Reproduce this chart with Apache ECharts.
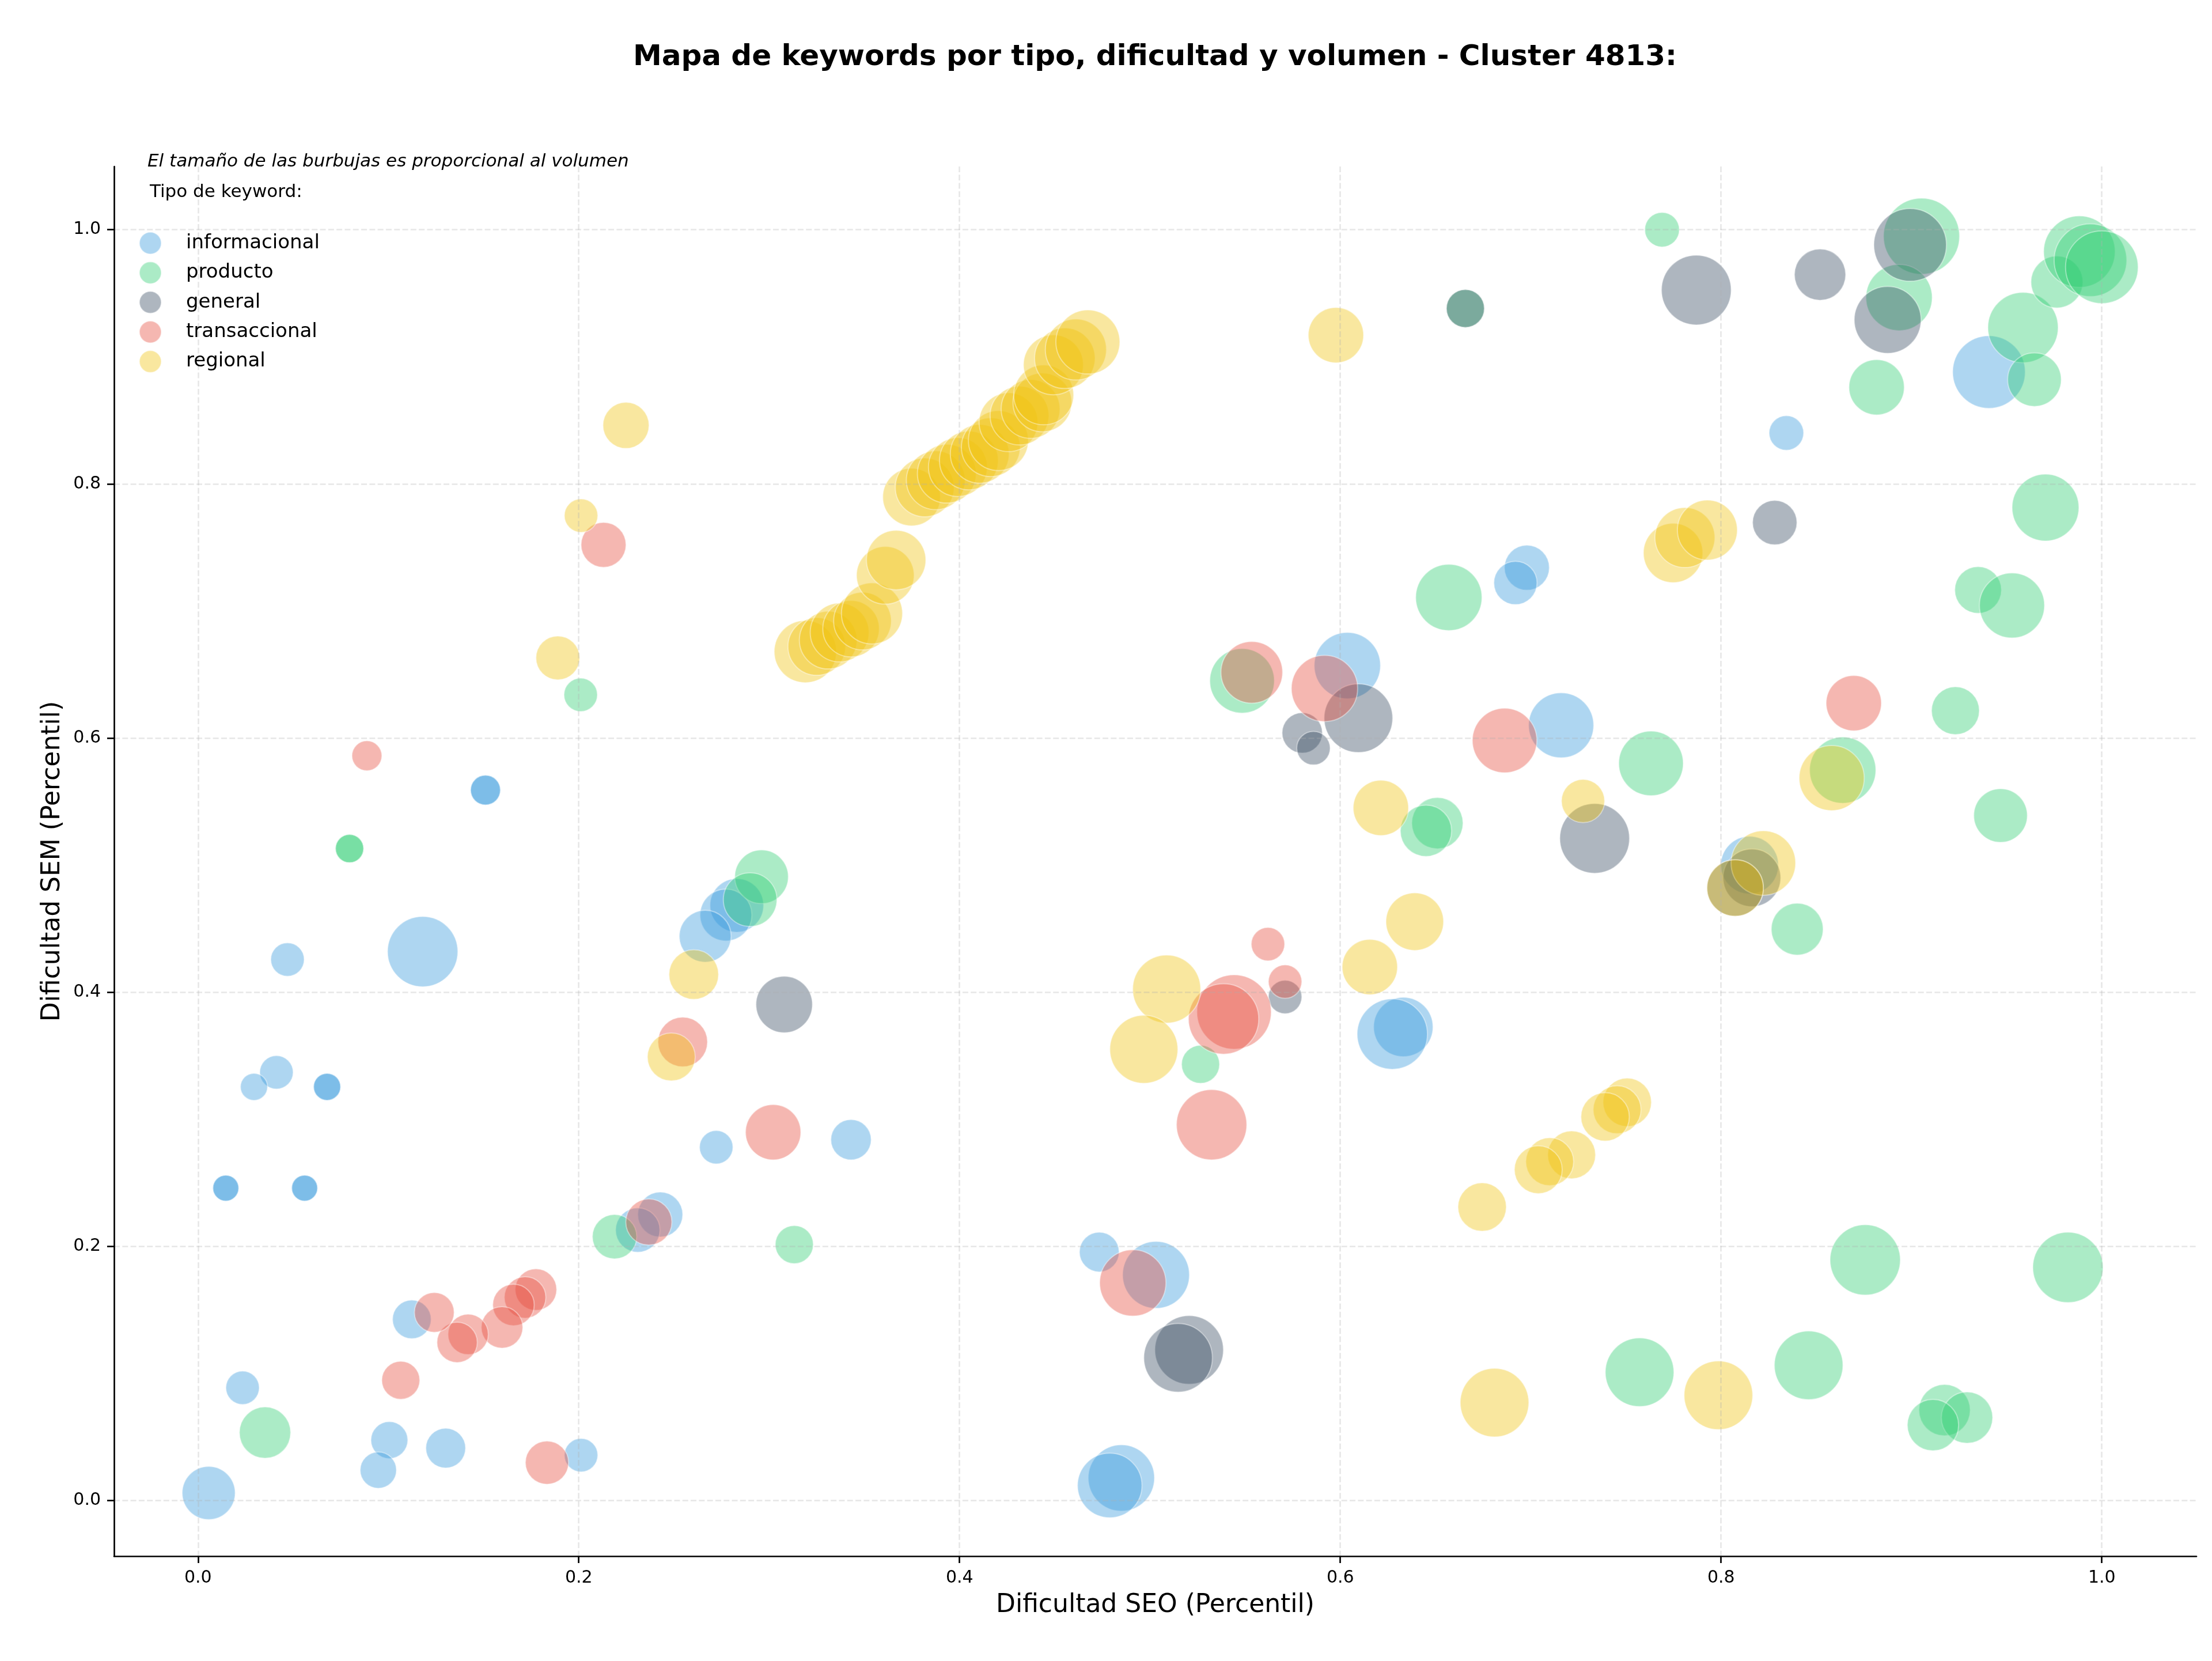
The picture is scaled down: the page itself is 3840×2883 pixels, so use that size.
<!DOCTYPE html>
<html>
<head>
<meta charset="utf-8">
<script src="https://cdn.jsdelivr.net/npm/echarts@6/dist/echarts.min.js"></script>
<style>
  html, body { margin: 0; padding: 0; background: #ffffff; }
  #chart { width: 3840px; height: 2883px; }
</style>
</head>
<body>
<div id="chart"></div>
<script>
// ---- Data ----
const tickValues = [0.0, 0.2, 0.4, 0.6, 0.8, 1.0];
const tipos = ['informacional', 'producto', 'general', 'transaccional', 'regional'];

// volumen: relative keyword volume (bubble area is proportional to it)
const informacionalX = [0.151,0.151,0.047,0.118,0.0412,0.0294,0.0678,0.0678,0.0146,0.0146,0.056,0.056,0.283,0.2773,0.2664,0.2722,0.2428,0.231,0.1123,0.0234,0.1005,0.0947,0.1301,0.2012,0.0056,0.343,0.4734,0.5032,0.485,0.4789,0.6331,0.6273,0.6037,0.698,0.692,0.716,0.8343,0.9407,0.815];
const informacionalY = [0.559,0.559,0.4257,0.4319,0.3369,0.3255,0.3255,0.3255,0.2458,0.2458,0.2458,0.2458,0.4683,0.4607,0.444,0.278,0.225,0.2128,0.1425,0.0887,0.0475,0.0239,0.0412,0.0357,0.0059,0.2839,0.1955,0.1775,0.0177,0.0118,0.3726,0.367,0.657,0.734,0.722,0.610,0.840,0.888,0.50];
const informacionalVol = [243,243,303,1340,303,199,199,199,182,182,182,182,778,729,729,303,548,534,404,303,369,357,428,303,762,441,428,1211,1190,1129,955,1340,1190,548,506,1149,324,1429,900];

const productoX = [0.769,0.9053,0.8935,0.8817,0.9586,0.9646,0.9764,0.9882,0.994,1.0,0.6657,0.657,0.5484,0.651,0.645,0.9704,0.935,0.9528,0.9231,0.7632,0.8639,0.9468,0.84,0.8757,0.9822,0.7572,0.846,0.9174,0.9292,0.9113,0.5266,0.201,0.0796,0.0796,0.296,0.29,0.3132,0.2188,0.0352];
const productoY = [1.0,0.9948,0.9466,0.876,0.923,0.882,0.9588,0.9827,0.976,0.9705,0.938,0.7106,0.645,0.533,0.527,0.7813,0.7165,0.7043,0.6215,0.580,0.5747,0.539,0.4496,0.1893,0.1834,0.1009,0.1064,0.0711,0.0652,0.0593,0.3432,0.634,0.513,0.513,0.4908,0.4728,0.2014,0.2076,0.0534];
const productoVol = [324,1568,1190,829,1340,778,729,1384,1429,1429,392,1190,1129,713,713,1211,590,1149,620,1129,1190,778,729,1340,1340,1275,1275,713,713,713,392,303,216,216,778,778,392,534,713];

const generalX = [0.787,0.852,0.8993,0.8875,0.6657,0.8282,0.6095,0.580,0.5859,0.7336,0.8162,0.8074,0.571,0.3079,0.5206,0.5148];
const generalY = [0.9525,0.9646,0.988,0.929,0.938,0.7695,0.6156,0.604,0.592,0.521,0.49,0.482,0.3962,0.3903,0.1185,0.1123];
const generalVol = [1318,713,1429,1211,392,534,1275,441,303,1318,900,864,303,864,1275,1275];

const transaccionalX = [0.213,0.0887,0.5535,0.5917,0.6863,0.8697,0.562,0.571,0.5442,0.5387,0.5324,0.491,0.2546,0.3021,0.2368,0.1775,0.1718,0.1657,0.1597,0.1419,0.1361,0.1241,0.1065,0.1833];
const transaccionalY = [0.752,0.586,0.6517,0.639,0.598,0.6274,0.4378,0.4083,0.3844,0.3789,0.2957,0.1712,0.3608,0.2898,0.2191,0.166,0.1598,0.1539,0.1362,0.1307,0.1244,0.148,0.0946,0.0298];
const transaccionalVol = [548,243,1030,1190,1129,829,303,303,1498,1340,1340,1190,666,829,576,467,467,467,467,441,441,428,392,506];

const regionalX = [0.2248,0.2012,0.189,0.5977,0.6213,0.7748,0.781,0.7928,0.8581,0.7275,0.8222,0.8074,0.6391,0.6155,0.5088,0.4968,0.2604,0.2486,0.7507,0.7454,0.7391,0.7215,0.71,0.704,0.6745,0.681,0.7986,
  0.319,0.325,0.331,0.337,0.343,0.349,0.354,0.361,0.3667,0.3748,0.3817,0.3875,0.3933,0.3991,0.4049,0.4106,0.4164,0.4204,0.4257,0.4315,0.4373,0.4435,0.4442,0.4493,0.4553,0.4611,0.4674];
const regionalY = [0.846,0.775,0.663,0.917,0.545,0.7456,0.7577,0.7636,0.5685,0.5504,0.5016,0.482,0.4555,0.4198,0.4024,0.355,0.4139,0.349,0.3133,0.3075,0.3019,0.272,0.2666,0.2603,0.2309,0.077,0.0828,
  0.668,0.672,0.677,0.683,0.686,0.692,0.698,0.728,0.740,0.7896,0.7972,0.8028,0.808,0.8132,0.8184,0.8236,0.8288,0.834,0.8485,0.8537,0.8589,0.8641,0.870,0.8936,0.8988,0.9057,0.9116];
const regionalVol = [576,303,520,829,829,955,973,973,1149,506,1129,864,900,829,1253,1253,666,620,635,620,635,620,620,620,635,1275,1275,
  1050,900,900,936,864,900,1011,900,955,900,936,936,936,936,936,936,936,973,936,936,936,936,973,973,992,1011,1109];

// ---- Build options ----
const colors = {
  informacional: 'rgba(52,152,219,0.5)',
  producto: 'rgba(46,204,113,0.5)',
  general: 'rgba(52,73,94,0.5)',
  transaccional: 'rgba(231,76,60,0.5)',
  regional: 'rgba(241,196,15,0.5)'
};
const sources = {
  informacional: [informacionalX, informacionalY, informacionalVol],
  producto: [productoX, productoY, productoVol],
  general: [generalX, generalY, generalVol],
  transaccional: [transaccionalX, transaccionalY, transaccionalVol],
  regional: [regionalX, regionalY, regionalVol]
};
function zip(xs, ys, vs) { return xs.map((x, i) => [x, ys[i], vs[i]]); }

const FONT = '"DejaVu Sans", sans-serif';
const gridLine = { show: true, lineStyle: { color: 'rgba(176,176,176,0.3)', width: 2.67, type: [10, 4.3] } };
const fmt = v => Number(v).toFixed(1);

const series = tipos.map(t => ({
  name: t,
  type: 'scatter',
  data: zip.apply(null, sources[t]),
  symbol: 'circle',
  symbolSize: v => Math.sqrt(v[2]) / 0.3,
  itemStyle: { color: colors[t], borderColor: 'rgba(255,255,255,0.5)', borderWidth: 2 },
  emphasis: { disabled: true },
  z: 2
}));

const axisCommon = {
  type: 'value', z: 3,
  nameLocation: 'middle',
  nameTextStyle: { fontSize: 44, color: '#000', fontFamily: FONT },
  axisLine: { show: true, onZero: false, lineStyle: { color: '#000', width: 2.67 } },
  axisTick: { show: true, length: 12, lineStyle: { color: '#000', width: 2.67 }, customValues: tickValues },
  axisLabel: { fontSize: 30, color: '#000', margin: 23, fontFamily: FONT, formatter: fmt, customValues: tickValues },
  splitLine: gridLine
};

const option = {
  animation: false,
  backgroundColor: '#ffffff',
  textStyle: { fontFamily: FONT },
  grid: { left: 198, top: 289, width: 3615, height: 2412, containLabel: false },
  xAxis: Object.assign({}, axisCommon, {
    min: -0.0441, max: 1.0497,
    name: 'Dificultad SEO (Percentil)', nameGap: 64
  }),
  yAxis: Object.assign({}, axisCommon, {
    min: -0.0438, max: 1.0497,
    name: 'Dificultad SEM (Percentil)', nameGap: 84, nameRotate: 90
  }),
  legend: {
    data: tipos,
    orient: 'vertical',
    left: 236, top: 397,
    itemWidth: 114, itemHeight: 38, itemGap: 11.4,
    icon: 'circle',
    textStyle: { fontSize: 34, color: '#000', fontFamily: FONT, lineHeight: 38 },
    selectedMode: false
  },
  graphic: [
    { type: 'text', x: 2005, y: 100, z: 10,
      style: { text: 'Mapa de keywords por tipo, dificultad y volumen - Cluster 4813:', font: 'bold 50px "DejaVu Sans", sans-serif', fill: '#000', textAlign: 'center', textVerticalAlign: 'middle' } },
    { type: 'text', x: 256, y: 281, z: 10,
      style: { text: 'El tamaño de las burbujas es proporcional al volumen', font: 'italic 31px "DejaVu Sans", sans-serif', fill: '#000', textAlign: 'left', textVerticalAlign: 'middle' } },
    { type: 'text', x: 260, y: 334, z: 10,
      style: { text: 'Tipo de keyword:', font: '31px "DejaVu Sans", sans-serif', fill: '#000', textAlign: 'left', textVerticalAlign: 'middle' } }
  ],
  series: series
};

const chart = echarts.init(document.getElementById('chart'), null, { renderer: 'canvas', width: 3840, height: 2883 });
chart.setOption(option);
</script>
</body>
</html>
